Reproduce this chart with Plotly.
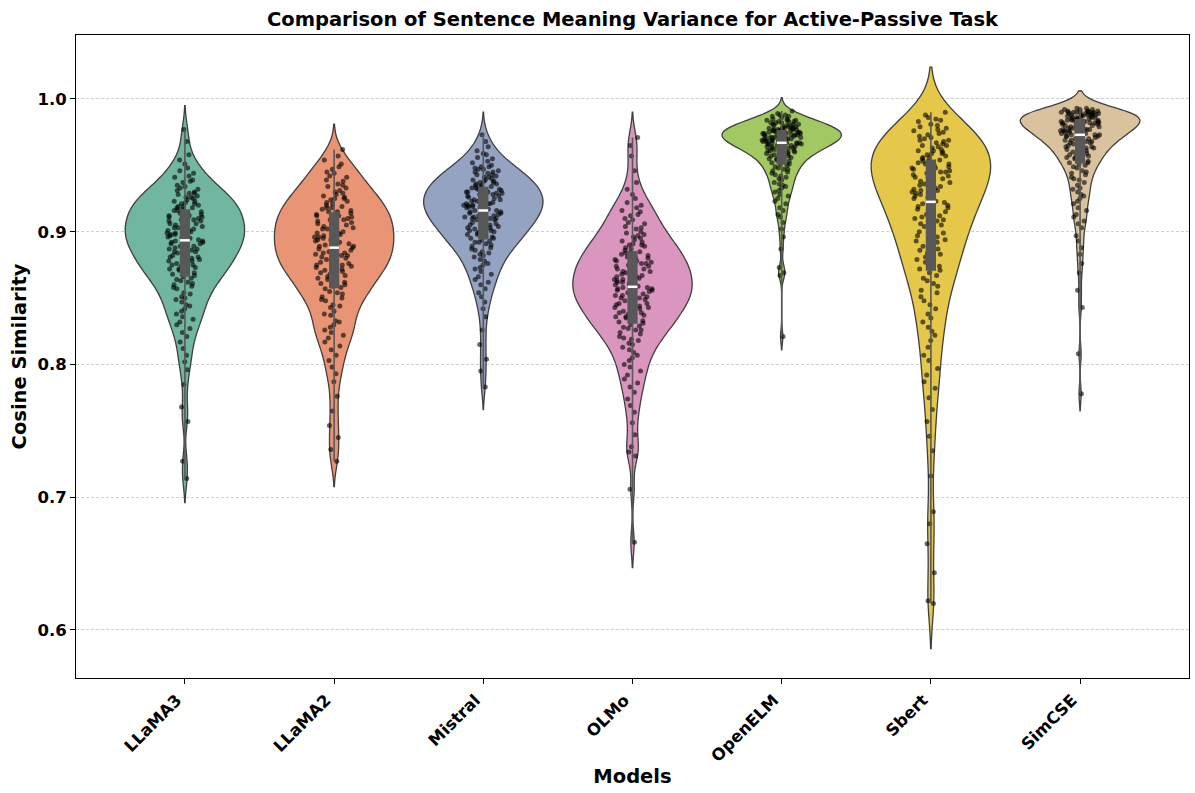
import numpy as np
import plotly.graph_objects as go

MODELS = ["LLaMA3", "LLaMA2", "Mistral", "OLMo", "OpenELM", "Sbert", "SimCSE"]

LLAMA3 = [
    0.977, 0.968, 0.958, 0.954, 0.951, 0.948, 0.946, 0.944, 0.942, 0.941,
    0.939, 0.938, 0.937, 0.935, 0.934, 0.933, 0.932, 0.931, 0.930,
    0.929, 0.929, 0.928, 0.927, 0.926, 0.926, 0.925, 0.924, 0.923, 0.923, 0.922, 0.921, 0.921, 0.920,
    0.919, 0.919, 0.918, 0.918, 0.917, 0.916, 0.916, 0.915, 0.914, 0.914, 0.913, 0.912, 0.912, 0.911, 0.911, 0.910,
    0.909, 0.909, 0.908, 0.908, 0.907, 0.906, 0.906, 0.905, 0.905, 0.904, 0.903, 0.903, 0.902, 0.902, 0.901, 0.901, 0.900,
    0.899, 0.899, 0.898, 0.898, 0.897, 0.896, 0.896, 0.895, 0.895, 0.894, 0.893, 0.893, 0.892, 0.892, 0.891, 0.891, 0.890,
    0.889, 0.889, 0.888, 0.887, 0.887, 0.886, 0.885, 0.885, 0.884, 0.883, 0.883, 0.882, 0.881, 0.881, 0.880,
    0.879, 0.878, 0.878, 0.877, 0.876, 0.875, 0.875, 0.874, 0.873, 0.872, 0.872, 0.871, 0.870,
    0.869, 0.868, 0.867, 0.866, 0.865, 0.864, 0.863, 0.862, 0.861, 0.860,
    0.859, 0.858, 0.857, 0.854, 0.853, 0.851, 0.850,
    0.849, 0.847, 0.845, 0.844, 0.842, 0.840,
    0.838, 0.836, 0.834, 0.832, 0.830, 0.827, 0.824, 0.821, 0.817, 0.812,
    0.807, 0.802, 0.796, 0.785, 0.768, 0.757, 0.727, 0.714,
]

LLAMA2 = [
    0.962, 0.957, 0.954, 0.951, 0.949, 0.947, 0.945, 0.944, 0.942, 0.941,
    0.939, 0.938, 0.936, 0.935, 0.934, 0.933, 0.931, 0.930,
    0.929, 0.928, 0.927, 0.926, 0.925, 0.925, 0.924, 0.923, 0.922, 0.921, 0.920,
    0.919, 0.918, 0.918, 0.917, 0.916, 0.915, 0.915, 0.914, 0.913, 0.912, 0.912, 0.911, 0.910,
    0.909, 0.909, 0.908, 0.907, 0.906, 0.906, 0.905, 0.904, 0.904, 0.903, 0.902, 0.902, 0.901, 0.900,
    0.899, 0.899, 0.898, 0.897, 0.896, 0.896, 0.895, 0.894, 0.894, 0.893, 0.892, 0.892, 0.891, 0.890,
    0.889, 0.889, 0.888, 0.887, 0.886, 0.886, 0.885, 0.884, 0.884, 0.883, 0.882, 0.882, 0.881, 0.880,
    0.879, 0.878, 0.878, 0.877, 0.876, 0.875, 0.875, 0.874, 0.873, 0.872, 0.872, 0.871, 0.870,
    0.869, 0.868, 0.867, 0.866, 0.865, 0.864, 0.863, 0.862, 0.861, 0.860,
    0.859, 0.858, 0.857, 0.855, 0.854, 0.853, 0.851, 0.850,
    0.849, 0.848, 0.845, 0.844, 0.843, 0.840,
    0.838, 0.837, 0.833, 0.832, 0.830,
    0.828, 0.826, 0.824, 0.822, 0.820, 0.817, 0.814, 0.811, 0.807, 0.803, 0.798, 0.793,
    0.787, 0.776, 0.765, 0.754, 0.745, 0.736, 0.727,
]

MISTRAL = [
    0.973, 0.968, 0.964, 0.961,
    0.959, 0.958, 0.956, 0.955, 0.953, 0.952, 0.950,
    0.949, 0.949, 0.948, 0.947, 0.947, 0.946, 0.945, 0.945, 0.944, 0.943, 0.943, 0.942, 0.941, 0.941, 0.940,
    0.939, 0.939, 0.938, 0.938, 0.937, 0.937, 0.936, 0.936, 0.935, 0.935, 0.934, 0.934, 0.933, 0.933,
    0.932, 0.932, 0.931, 0.931, 0.930, 0.930, 0.930,
    0.929, 0.929, 0.928, 0.928, 0.927, 0.927, 0.926, 0.926, 0.925, 0.925, 0.924, 0.924, 0.923, 0.923,
    0.922, 0.922, 0.921, 0.921, 0.921, 0.920, 0.920, 0.920,
    0.919, 0.919, 0.918, 0.918, 0.917, 0.917, 0.916, 0.916, 0.915, 0.915, 0.914, 0.914, 0.913, 0.913,
    0.912, 0.912, 0.911, 0.911, 0.910, 0.910, 0.910,
    0.909, 0.909, 0.908, 0.907, 0.907, 0.906, 0.905, 0.905, 0.904, 0.903, 0.903, 0.902, 0.902, 0.901,
    0.901, 0.900, 0.900,
    0.899, 0.898, 0.898, 0.897, 0.896, 0.895, 0.895, 0.894, 0.893, 0.892, 0.892, 0.891, 0.890,
    0.889, 0.888, 0.887, 0.886, 0.885, 0.884, 0.883, 0.882, 0.881,
    0.879, 0.878, 0.876, 0.875, 0.873, 0.872, 0.870,
    0.868, 0.866, 0.864, 0.862, 0.860, 0.857, 0.854, 0.851, 0.847, 0.842,
    0.836, 0.826, 0.815, 0.804, 0.795, 0.783,
]

OLMO = [
    0.971, 0.965, 0.957, 0.946, 0.937, 0.932,
    0.928, 0.925, 0.922, 0.920,
    0.918, 0.916, 0.915, 0.913, 0.912, 0.910, 0.909,
    0.907, 0.906, 0.904, 0.903, 0.902, 0.900, 0.899, 0.898, 0.897,
    0.896, 0.895, 0.894, 0.893, 0.892, 0.891, 0.890, 0.890, 0.889, 0.888, 0.887, 0.886,
    0.885, 0.884, 0.884, 0.883, 0.882, 0.881, 0.880, 0.880, 0.879, 0.878, 0.878, 0.877, 0.876, 0.876,
    0.875, 0.874, 0.874, 0.873, 0.872, 0.872, 0.871, 0.870, 0.870, 0.869, 0.868, 0.868, 0.867, 0.866, 0.866,
    0.865, 0.864, 0.864, 0.863, 0.862, 0.862, 0.861, 0.860, 0.860, 0.859, 0.858, 0.858, 0.857, 0.857,
    0.856, 0.856,
    0.855, 0.854, 0.854, 0.853, 0.852, 0.852, 0.851, 0.850, 0.850, 0.849, 0.848, 0.848, 0.847, 0.846, 0.846,
    0.845, 0.844, 0.843, 0.843, 0.842, 0.841, 0.840, 0.839, 0.839, 0.838, 0.837, 0.836, 0.836,
    0.835, 0.834, 0.833, 0.832, 0.831, 0.830, 0.829, 0.828, 0.827, 0.826, 0.826,
    0.824, 0.823, 0.821, 0.820, 0.819, 0.818, 0.816, 0.815,
    0.813, 0.811, 0.809, 0.807, 0.805, 0.803, 0.800, 0.798, 0.795,
    0.792, 0.789, 0.786, 0.783, 0.779, 0.774, 0.769,
    0.764, 0.756, 0.747, 0.738, 0.734, 0.731, 0.706, 0.666,
]

OPENELM = [
    0.991, 0.989, 0.988, 0.988, 0.987, 0.987, 0.986, 0.985,
    0.985, 0.984, 0.984, 0.984, 0.983, 0.983, 0.983, 0.982, 0.982, 0.982, 0.981, 0.981, 0.981,
    0.980, 0.980, 0.980,
    0.979, 0.979, 0.979, 0.978, 0.978, 0.978, 0.978, 0.978, 0.977, 0.977, 0.977, 0.977,
    0.976, 0.976, 0.976, 0.976, 0.976, 0.975, 0.975, 0.975, 0.975, 0.975,
    0.974, 0.974, 0.974, 0.974, 0.973, 0.973, 0.973, 0.973, 0.973, 0.972, 0.972, 0.972, 0.972,
    0.971, 0.971, 0.971, 0.971, 0.971, 0.970, 0.970, 0.970, 0.970,
    0.969, 0.969, 0.969, 0.969, 0.968, 0.968, 0.968, 0.968, 0.967, 0.967, 0.967, 0.967,
    0.966, 0.966, 0.966, 0.966, 0.965, 0.965, 0.965,
    0.964, 0.964, 0.964, 0.963, 0.963, 0.963, 0.962, 0.962, 0.962, 0.961, 0.961, 0.961, 0.960, 0.960,
    0.959, 0.959, 0.958, 0.958, 0.957, 0.957, 0.956, 0.956, 0.955, 0.955,
    0.954, 0.953, 0.953, 0.952, 0.951, 0.951, 0.950,
    0.949, 0.948, 0.947, 0.947, 0.946, 0.945,
    0.944, 0.943, 0.942, 0.941, 0.940, 0.939, 0.937, 0.936, 0.935,
    0.934, 0.933, 0.931, 0.930, 0.928, 0.927, 0.925, 0.923, 0.921,
    0.918, 0.916, 0.913, 0.911, 0.907, 0.902,
    0.896, 0.887, 0.873, 0.869, 0.867, 0.821,
]

SBERT = [
    0.990, 0.988, 0.986, 0.985, 0.984, 0.983, 0.981, 0.980,
    0.979, 0.978, 0.977, 0.976, 0.975, 0.974, 0.973, 0.972, 0.971, 0.970,
    0.969, 0.969, 0.968, 0.967, 0.966, 0.965, 0.965, 0.964, 0.963, 0.962, 0.961, 0.961, 0.960,
    0.959, 0.959, 0.958, 0.957, 0.956, 0.956, 0.955, 0.954, 0.953, 0.953, 0.952, 0.951, 0.951, 0.950,
    0.949, 0.948, 0.948, 0.947, 0.946, 0.945, 0.945, 0.944, 0.943, 0.942, 0.941, 0.941, 0.940,
    0.939, 0.938, 0.937, 0.936, 0.935, 0.935, 0.934, 0.933, 0.932, 0.931, 0.931, 0.930,
    0.929, 0.928, 0.927, 0.926, 0.925, 0.924, 0.923, 0.922, 0.921, 0.920,
    0.919, 0.918, 0.917, 0.915, 0.914, 0.913, 0.912, 0.911, 0.910,
    0.909, 0.908, 0.906, 0.905, 0.904, 0.903, 0.901, 0.900,
    0.899, 0.897, 0.896, 0.894, 0.893, 0.892, 0.890,
    0.889, 0.887, 0.886, 0.884, 0.883, 0.881,
    0.879, 0.877, 0.876, 0.874, 0.872, 0.871,
    0.869, 0.867, 0.865, 0.863, 0.861, 0.859, 0.856, 0.854, 0.851,
    0.848, 0.845, 0.842, 0.838, 0.835, 0.832, 0.828, 0.825, 0.822,
    0.818, 0.813, 0.807, 0.803, 0.797, 0.792, 0.787, 0.782,
    0.775, 0.766, 0.757, 0.746, 0.735, 0.716,
    0.689, 0.680, 0.665, 0.643, 0.622, 0.620,
]

SIMCSE = [
    0.993, 0.993, 0.992, 0.992, 0.992, 0.991, 0.991, 0.991, 0.991, 0.990, 0.990, 0.990, 0.990,
    0.990, 0.990, 0.990,
    0.989, 0.989, 0.989, 0.989, 0.989, 0.988, 0.988, 0.988, 0.988, 0.988, 0.987, 0.987, 0.987, 0.987,
    0.986, 0.986, 0.986, 0.986, 0.985, 0.985, 0.985, 0.985,
    0.984, 0.984, 0.984, 0.984, 0.983, 0.983, 0.983, 0.983, 0.982, 0.982, 0.982, 0.982,
    0.981, 0.981, 0.981, 0.980, 0.980, 0.980,
    0.979, 0.979, 0.979, 0.978, 0.978, 0.978, 0.977, 0.977, 0.977, 0.977, 0.976, 0.976, 0.976,
    0.975, 0.975, 0.975,
    0.974, 0.974, 0.974, 0.973, 0.973, 0.973, 0.972, 0.972, 0.972, 0.971, 0.971, 0.970, 0.970,
    0.969, 0.969, 0.968, 0.968, 0.967, 0.967, 0.966, 0.966, 0.965, 0.965,
    0.964, 0.964, 0.963, 0.963, 0.962, 0.961, 0.961, 0.960,
    0.959, 0.958, 0.958, 0.957, 0.956, 0.956, 0.955,
    0.954, 0.953, 0.952, 0.952, 0.951, 0.950,
    0.949, 0.948, 0.946, 0.945, 0.944, 0.943, 0.941, 0.940, 0.939, 0.937, 0.935,
    0.933, 0.932, 0.930, 0.928, 0.927, 0.925, 0.923, 0.921, 0.918, 0.916, 0.913, 0.911,
    0.908, 0.906, 0.903, 0.897, 0.893, 0.888, 0.883, 0.876, 0.869, 0.856, 0.843, 0.808, 0.778,
]

SERIES = [LLAMA3, LLAMA2, MISTRAL, OLMO, OPENELM, SBERT, SIMCSE]
Y_TICKS = [0.6, 0.7, 0.8, 0.9, 1.0]
Y_TICK_TEXT = ["0.6", "0.7", "0.8", "0.9", "1.0"]

# styles
COLORS = ["#71b6a1", "#e99575", "#95a3c3", "#db96c0", "#a2c864", "#e5c849", "#dbc29e"]
BANDWIDTHS = [0.009, 0.0095, 0.0085, 0.0095, 0.005, 0.017, 0.0065]
FONT = "DejaVu Sans"

fig = go.Figure()

# violin bodies with jittered strip points on top of them
for name, vals, col, bw in zip(MODELS, SERIES, COLORS, BANDWIDTHS):
    fig.add_trace(go.Violin(
        x=[name] * len(vals), y=vals, name=name,
        fillcolor=col, line=dict(color="#3f3f3f", width=1.3), opacity=1,
        width=0.8, bandwidth=bw, spanmode="soft", scalemode="width",
        points="all", pointpos=0, jitter=0.33,
        marker=dict(color="black", opacity=0.6, size=5, line=dict(width=0)),
        box_visible=False, meanline_visible=False,
        hoverinfo="skip", showlegend=False,
    ))

# inner boxes (quartiles, whiskers to extremes) drawn over the points
for name, vals in zip(MODELS, SERIES):
    arr = np.asarray(vals)
    q1, med, q3 = np.percentile(arr, [25, 50, 75])
    fig.add_trace(go.Box(
        x=[name], q1=[q1], median=[med], q3=[q3],
        lowerfence=[arr.min()], upperfence=[arr.max()],
        width=0.058, whiskerwidth=0, boxpoints=False,
        fillcolor="#585858", line=dict(color="#585858", width=1.6),
        hoverinfo="skip", showlegend=False,
    ))

# medians (white dash)
fig.add_trace(go.Scatter(
    x=MODELS, y=[float(np.median(v)) for v in SERIES], mode="markers",
    marker=dict(symbol="line-ew", size=7, color="white", line=dict(color="white", width=2.5)),
    hoverinfo="skip", showlegend=False,
))

fig.update_layout(
    width=1195, height=793,
    margin=dict(l=76, r=6, t=35, b=115),
    plot_bgcolor="white", paper_bgcolor="white",
    font=dict(family=FONT, color="black"),
    violinmode="overlay", boxmode="overlay",
    title=dict(
        text="Comparison of Sentence Meaning Variance for Active-Passive Task",
        x=0.5, xref="paper", xanchor="center",
        y=1 - 19 / 793, yref="container", yanchor="middle",
        font=dict(family=FONT, size=19.5, color="black", weight="bold"),
    ),
    xaxis=dict(
        type="category", categoryorder="array", categoryarray=MODELS,
        range=[-0.73, 6.73],
        showline=True, mirror=True, linecolor="black", linewidth=1,
        ticks="outside", ticklen=5, tickcolor="black", tickangle=-45,
        ticklabelshift=-8,
        tickfont=dict(family=FONT, size=16.5, color="black", weight="bold"),
        showgrid=False, zeroline=False,
        title=dict(text="Models", standoff=4,
                   font=dict(family=FONT, size=19.5, color="black", weight="bold")),
    ),
    yaxis=dict(
        range=[0.5638, 1.0482],
        tickvals=Y_TICKS, ticktext=Y_TICK_TEXT,
        showgrid=True, gridcolor="#cfcfcf", griddash="3px,2px", gridwidth=0.8,
        showline=True, mirror=True, linecolor="black", linewidth=1,
        ticks="outside", ticklen=5, tickcolor="black",
        tickfont=dict(family=FONT, size=16.5, color="black", weight="bold"),
        zeroline=False,
        title=dict(text="Cosine Similarity", standoff=5,
                   font=dict(family=FONT, size=19.5, color="black", weight="bold")),
    ),
)

fig.write_html(
    "out.html",
    config={"displayModeBar": False},
    post_script="document.body.style.margin='0';document.body.style.overflow='hidden';",
)
